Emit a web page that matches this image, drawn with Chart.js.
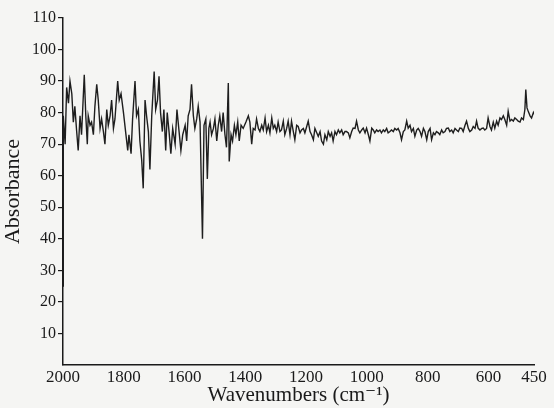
<!DOCTYPE html>
<html>
<head>
<meta charset="utf-8">
<script src="https://cdn.jsdelivr.net/npm/chart.js@4.4.1/dist/chart.umd.min.js"></script>
<style>
  html, body { margin: 0; padding: 0; background: #f5f5f3; }
  #wrap { width: 554px; height: 408px; }
</style>
</head>
<body>
<div id="wrap"><canvas id="myChart" width="554" height="408"></canvas></div>
<script>
// wavenumbers (cm-1) and absorbance
var wavenumbers = [
  2000, 1999, 1993, 1988, 1982, 1977, 1971, 1966, 1961, 1955, 1950, 1944, 1939, 1930, 1925, 1920,
  1917, 1911, 1906, 1900, 1895, 1889, 1884, 1878, 1873, 1867, 1862, 1856, 1851, 1845, 1840, 1834,
  1829, 1820, 1815, 1809, 1801, 1794, 1787, 1783, 1776, 1771, 1763, 1758, 1752, 1747, 1741, 1736,
  1730, 1725, 1719, 1714, 1708, 1700, 1695, 1689, 1684, 1679, 1673, 1668, 1662, 1657, 1651, 1645,
  1639, 1631, 1625, 1618, 1612, 1606, 1598, 1593, 1588, 1582, 1577, 1571, 1566, 1560, 1555, 1549,
  1541, 1536, 1530, 1525, 1520, 1516, 1511, 1505, 1500, 1494, 1489, 1484, 1478, 1473, 1467, 1462,
  1456, 1453, 1447, 1442, 1436, 1431, 1425, 1420, 1414, 1407, 1398, 1390, 1385, 1379, 1374, 1368,
  1363, 1357, 1352, 1346, 1341, 1335, 1330, 1324, 1319, 1313, 1308, 1303, 1297, 1292, 1286, 1281,
  1275, 1270, 1264, 1259, 1253, 1248, 1242, 1237, 1231, 1226, 1220, 1215, 1209, 1204, 1198, 1193,
  1187, 1182, 1176, 1171, 1165, 1160, 1154, 1149, 1143, 1138, 1132, 1127, 1121, 1116, 1111, 1105,
  1100, 1094, 1089, 1083, 1078, 1072, 1067, 1061, 1056, 1050, 1045, 1039, 1034, 1028, 1023, 1017,
  1012, 1006, 1001, 995, 990, 984, 979, 974, 968, 963, 957, 952, 946, 941, 935, 930,
  924, 919, 913, 908, 902, 897, 891, 886, 880, 875, 869, 864, 858, 853, 847, 842,
  836, 831, 825, 820, 814, 809, 803, 798, 792, 787, 781, 776, 771, 765, 760, 754,
  749, 743, 738, 732, 727, 721, 716, 710, 705, 699, 694, 688, 683, 677, 672, 666,
  661, 655, 650, 644, 639, 634, 628, 622, 617, 612, 606, 601, 595, 590, 584, 579,
  573, 568, 562, 557, 551, 546, 540, 535, 529, 524, 518, 513, 507, 502, 496, 491,
  485, 480, 477, 473, 469, 463, 458, 452, 450
];

var absorbance = [
  25, 79, 70, 88, 83, 90, 86, 77, 82, 74, 68, 79, 73, 92, 79, 70,
  79, 76, 77, 73, 82, 89, 84, 75, 78, 74, 70, 81, 76, 79, 84, 75,
  78, 90, 84, 86, 80, 74, 68, 73, 67, 78, 90, 79, 81, 71, 65, 56,
  84, 79, 74, 62, 79, 93, 81, 84, 91.5, 80, 74, 81, 68, 80, 74, 67,
  75, 70, 81, 74, 68, 73, 76, 71, 79, 81, 89, 79, 75, 78, 82, 77,
  40, 76, 78, 59, 75, 77, 73, 75, 78, 71, 76, 79, 74, 80, 73, 69,
  89.4, 64.5, 73, 71, 76, 73, 77, 71, 76, 75, 77, 79, 77, 70, 75, 74.5,
  78, 75, 74, 76, 74.5, 78.3, 74, 76, 73.6, 78.3, 75, 76, 74, 77, 74, 74.5,
  77.3, 73, 75, 77.3, 73, 77.3, 74, 71.4, 76, 75.6, 73.6, 74.5, 75, 73.6, 75.6, 77.3,
  74, 73, 71.4, 75, 73.6, 72.5, 74, 71, 70, 73, 71.4, 74, 72.5, 73.6, 71, 74,
  73, 74.5, 73.6, 74.5, 73, 74, 74, 73.6, 72, 74, 75.1, 75, 77.3, 74.5, 73.6, 74.5,
  75.1, 73.6, 75.1, 73, 71, 75.1, 74.5, 73.6, 74.5, 74, 74.5, 73.6, 74.5, 74, 75, 73.6,
  74, 74.5, 74, 75, 74.5, 75, 73.6, 71.4, 74, 74.5, 77.3, 75.1, 76, 74, 75, 72.5,
  74.5, 75, 74, 72.5, 75, 74, 71.4, 74, 75, 71.4, 73.6, 73, 74, 73.6, 73, 74.5,
  73.6, 74, 75, 75.1, 74, 74.5, 73.6, 75, 74.5, 74, 75.1, 75, 74, 76, 77.3, 75,
  74, 74.5, 75.6, 75, 77.3, 75.1, 74.5, 75, 75.1, 74.5, 75, 78.3, 75.6, 74.5, 77, 75.1,
  77.3, 76, 78.3, 77.8, 79, 77.8, 76, 80.4, 77.3, 77.8, 77.3, 78.3, 77.8, 77.3, 77, 78.3,
  77.8, 81, 87.3, 81.5, 80.4, 79, 78.3, 80, 79.5
];

var xTicks = [2000, 1800, 1600, 1400, 1200, 1000, 800, 600, 450];
var yTicks = [10, 20, 30, 40, 50, 60, 70, 80, 90, 100, 110];

var points = [];
for (let i = 0; i < wavenumbers.length; i++) {
  points.push({ x: wavenumbers[i], y: absorbance[i] });
}

var serif = "'Liberation Serif', 'DejaVu Serif', serif";
var ink = '#1a1a1a';

const ctx = document.getElementById('myChart');

var myChart = new Chart(ctx, {
  type: 'line',
  data: {
    datasets: [{
      data: points,
      borderColor: '#1e1e1e',
      borderWidth: 1.4,
      pointRadius: 0,
      tension: 0,
      fill: false
    }]
  },
  options: {
    responsive: false,
    animation: false,
    events: [],
    layout: { padding: { left: 0, right: 20, top: 18, bottom: 0 } },
    plugins: {
      legend: { display: false },
      tooltip: { enabled: false }
    },
    scales: {
      x: {
        type: 'linear',
        reverse: true,
        min: 450,
        max: 2000,
        afterBuildTicks: function (scale) {
          scale.ticks = xTicks.map(v => ({ value: v }));
        },
        afterFit: function (scale) { scale.height = 43; },
        grid: { display: false, drawTicks: false },
        border: { display: true, color: ink, width: 1.5 },
        ticks: {
          color: ink,
          font: { family: serif, size: 17 },
          padding: 2,
          maxRotation: 0,
          autoSkip: false,
          callback: function (value) { return String(value); }
        },
        title: {
          display: true,
          text: 'Wavenumbers (cm\u207B\u00B9)',
          color: ink,
          font: { family: serif, size: 21 },
          padding: { top: -4, bottom: 0 }
        }
      },
      y: {
        min: 0,
        max: 110,
        afterBuildTicks: function (scale) {
          scale.ticks = yTicks.map(v => ({ value: v }));
        },
        afterFit: function (scale) { scale.width = 63; },
        grid: { drawOnChartArea: false, drawTicks: true, tickLength: 5, color: ink, lineWidth: 1.2 },
        border: { display: true, color: ink, width: 1.5 },
        ticks: {
          color: ink,
          font: { family: serif, size: 16 },
          padding: 2,
          callback: function (value) { return String(value); }
        },
        title: {
          display: true,
          text: 'Absorbance',
          color: ink,
          font: { family: serif, size: 22 },
          padding: { top: 0, bottom: 0 }
        }
      }
    }
  }
});
</script>
</body>
</html>
